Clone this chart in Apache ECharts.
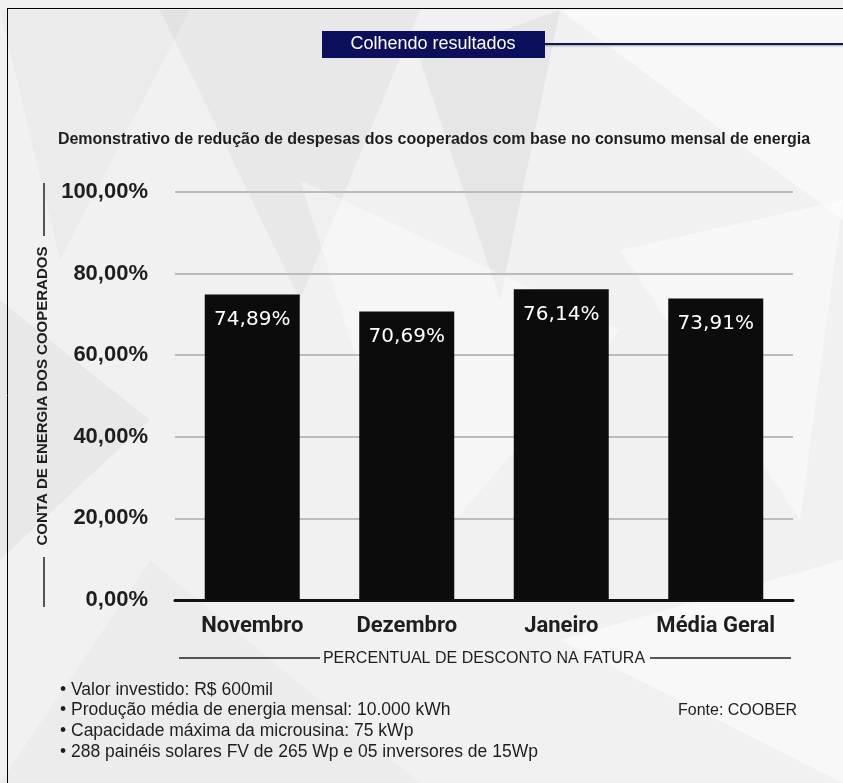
<!DOCTYPE html>
<html>
<head>
<meta charset="utf-8">
<script src="https://cdn.jsdelivr.net/npm/echarts@6/dist/echarts.min.js"></script>
<style>
  html, body { margin: 0; padding: 0; background: #ffffff; }
  #chart { width: 843px; height: 783px; }
</style>
</head>
<body>
<div id="chart"></div>
<script>
// Redução da conta de energia dos cooperados por mês
const categories = ['Novembro', 'Dezembro', 'Janeiro', 'Média Geral'];
const discountValues = [74.89, 70.69, 76.14, 73.91];
const yTicks = [0, 20, 40, 60, 80, 100];
const notes = [
  '• Valor investido: R$ 600mil',
  '• Produção média de energia mensal: 10.000 kWh',
  '• Capacidade máxima da microusina: 75 kWp',
  '• 288 painéis solares FV de 265 Wp e 05 inversores de 15Wp'
];
const sourceText = 'Fonte: COOBER';
const headerText = 'Colhendo resultados';
const titleText = 'Demonstrativo de redução de despesas dos cooperados com base no consumo mensal de energia';
const yAxisTitle = 'CONTA DE ENERGIA DOS COOPERADOS';
const xAxisTitle = 'PERCENTUAL DE DESCONTO NA FATURA';

const SANS = '"Liberation Sans", Roboto, sans-serif';
const fmtPct = v => v.toFixed(2).replace('.', ',') + '%';

const chart = echarts.init(document.getElementById('chart'), null, { renderer: 'canvas' });

// soft low-poly backdrop
const bgPolys = [
  { pts: [[0, 10], [190, 10], [60, 260]], c: 'rgba(0,0,0,0.025)' },
  { pts: [[160, 10], [420, 10], [300, 300]], c: 'rgba(0,0,0,0.035)' },
  { pts: [[420, 60], [560, 10], [500, 300]], c: 'rgba(0,0,0,0.045)' },
  { pts: [[560, 10], [843, 10], [843, 220]], c: 'rgba(255,255,255,0.5)' },
  { pts: [[0, 300], [150, 420], [0, 560]], c: 'rgba(0,0,0,0.035)' },
  { pts: [[620, 250], [843, 200], [800, 520]], c: 'rgba(255,255,255,0.45)' },
  { pts: [[150, 560], [420, 783], [0, 783]], c: 'rgba(0,0,0,0.02)' },
  { pts: [[560, 640], [843, 560], [843, 783]], c: 'rgba(255,255,255,0.5)' },
  { pts: [[300, 180], [620, 330], [420, 560]], c: 'rgba(255,255,255,0.35)' }
];

const graphics = [
  { type: 'rect', z: -10, silent: true, shape: { x: 0, y: 0, width: 843, height: 783 }, style: { fill: '#f1f1f1' } }
];
bgPolys.forEach(p => graphics.push({
  type: 'polygon', z: -9, silent: true, shape: { points: p.pts }, style: { fill: p.c }
}));

graphics.push(
  // page frame
  { type: 'line', shape: { x1: 7.5, y1: 8, x2: 7.5, y2: 783 }, style: { stroke: '#000', lineWidth: 1 } },
  { type: 'line', shape: { x1: 7, y1: 8.5, x2: 843, y2: 8.5 }, style: { stroke: '#000', lineWidth: 1 } },
  // header tag and rule
  { type: 'line', shape: { x1: 545, y1: 44, x2: 843, y2: 44 }, style: { stroke: '#0d1b4f', lineWidth: 2, shadowColor: 'rgba(0,0,0,0.35)', shadowBlur: 2, shadowOffsetY: 1 } },
  { type: 'rect', shape: { x: 322, y: 31, width: 223, height: 27 }, style: { fill: '#0b0f5c' } },
  { type: 'text', x: 433, y: 44.5, style: { text: headerText, fill: '#ffffff', font: '18px ' + SANS, align: 'center', verticalAlign: 'middle' } },
  // chart heading
  { type: 'text', x: 434, y: 140, style: { text: titleText, fill: '#1e1e1e', font: 'bold 16px ' + SANS, align: 'center', verticalAlign: 'middle' } },
  // rules flanking the axis titles
  { type: 'line', shape: { x1: 44, y1: 183, x2: 44, y2: 236 }, style: { stroke: '#222', lineWidth: 1.5 } },
  { type: 'line', shape: { x1: 44, y1: 557, x2: 44, y2: 607 }, style: { stroke: '#222', lineWidth: 1.5 } },
  { type: 'line', shape: { x1: 179, y1: 658, x2: 320, y2: 658 }, style: { stroke: '#222', lineWidth: 1.5 } },
  { type: 'line', shape: { x1: 650, y1: 658, x2: 791, y2: 658 }, style: { stroke: '#222', lineWidth: 1.5 } },
  // source
  { type: 'text', x: 678, y: 711, style: { text: sourceText, fill: '#1e1e1e', font: '16px ' + SANS, verticalAlign: 'middle' } }
);
notes.forEach((t, i) => graphics.push({
  type: 'text', x: 60, y: 690 + i * 20.6,
  style: { text: t, fill: '#1e1e1e', font: '17.5px ' + SANS, verticalAlign: 'middle' }
}));

const option = {
  animation: false,
  backgroundColor: 'transparent',
  graphic: { elements: graphics },
  grid: { left: 175, right: 50, top: 192, bottom: 183, containLabel: false },
  xAxis: {
    type: 'category',
    data: categories,
    name: xAxisTitle,
    nameLocation: 'middle',
    nameGap: 51,
    nameTextStyle: { color: '#1e1e1e', fontFamily: SANS, fontSize: 16 },
    axisLine: { show: true, lineStyle: { color: '#111', width: 3 } },
    axisTick: { show: false },
    axisLabel: { interval: 0, color: '#1e1e1e', fontFamily: 'Roboto, sans-serif', fontSize: 22, fontWeight: 'bold', margin: 15 }
  },
  yAxis: {
    type: 'value',
    min: yTicks[0],
    max: yTicks[yTicks.length - 1],
    interval: yTicks[1] - yTicks[0],
    name: yAxisTitle,
    nameLocation: 'middle',
    nameRotate: 90,
    nameGap: 123,
    nameTextStyle: { color: '#1e1e1e', fontFamily: SANS, fontSize: 15, fontWeight: 'bold' },
    axisLine: { show: false },
    axisTick: { show: false },
    axisLabel: { color: '#1e1e1e', fontFamily: SANS, fontSize: 22, fontWeight: 'bold', margin: 27, formatter: v => fmtPct(v) },
    splitLine: { show: true, lineStyle: { color: '#bcbcbc', width: 2 } }
  },
  series: [{
    type: 'bar',
    data: discountValues,
    barWidth: 95,
    itemStyle: { color: '#0c0c0c' },
    label: {
      show: true,
      position: 'insideTop',
      distance: 15,
      color: '#ffffff',
      fontFamily: '"DejaVu Sans", sans-serif',
      fontSize: 20,
      formatter: p => fmtPct(p.value)
    }
  }]
};

chart.setOption(option);
</script>
</body>
</html>
